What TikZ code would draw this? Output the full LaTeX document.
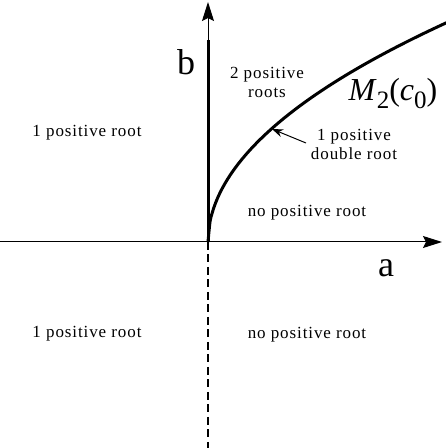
\documentclass[tikz,border=0pt]{standalone}
\usepackage{fontspec}
\setmainfont{Liberation Serif}
\usetikzlibrary{arrows.meta}
\newcommand{\subx}[1]{\raisebox{-8pt}{\fontsize{25}{27}\selectfont #1}}
\begin{document}
\begin{tikzpicture}[x=1pt,y=1pt,
  lbl/.style={inner sep=0pt,align=center,font=\fontsize{17}{19}\selectfont\addfontfeatures{LetterSpace=5.3}},
  axlbl/.style={inner sep=0pt,font=\fontsize{36}{40}\selectfont},
  axis/.style={line width=1pt},
  bigtip/.style={-{Stealth[length=19pt,width=12pt,inset=3pt]}}]
\useasboundingbox (0,0) rectangle (446,448);
% key points
\coordinate (O) at (208,206);
\coordinate (xl) at (0,206);
\coordinate (xr) at (442,206);
\coordinate (yt) at (208,446);
\coordinate (yk) at (208,408);
\coordinate (yb) at (208,0);
\coordinate (tip) at (272,319);
\coordinate (tail) at (306,305);
% axes
\draw[axis,bigtip] (xl) -- (xr);
\draw[axis,bigtip] (O) -- (yt);
\draw[line width=3pt] (O) -- (yk);
\draw[line width=2.6pt,dash pattern=on 8pt off 4.5pt] (O) -- (yb);
% curve
\draw[line width=3pt] plot[domain=0:240,samples=120,smooth] ({208+\x},{206+14.2*sqrt(\x)});
% labels
\node[axlbl] (b) at (186,386) {b};
\node[axlbl] (a) at (386,180) {a};
\node[inner sep=0pt,font=\fontsize{32}{36}\selectfont] (M) at (393,354) {\textit{M}\subx{2}(\textit{c}\subx{0})};
\node[lbl] (r2) at (267,366) {2 positive\\roots};
\node[lbl] (l1) at (87,315) {1 positive root};
\node[lbl] (d1) at (354,304) {1 positive\\double root};
\node[lbl] (n1) at (307,235) {no positive root};
\node[lbl] (l2) at (87,114) {1 positive root};
\node[lbl] (n2) at (307,113) {no positive root};
\draw[line width=1pt,-{Stealth[length=11pt,width=8pt]}] (tail) -- (tip);
\end{tikzpicture}
\end{document}
